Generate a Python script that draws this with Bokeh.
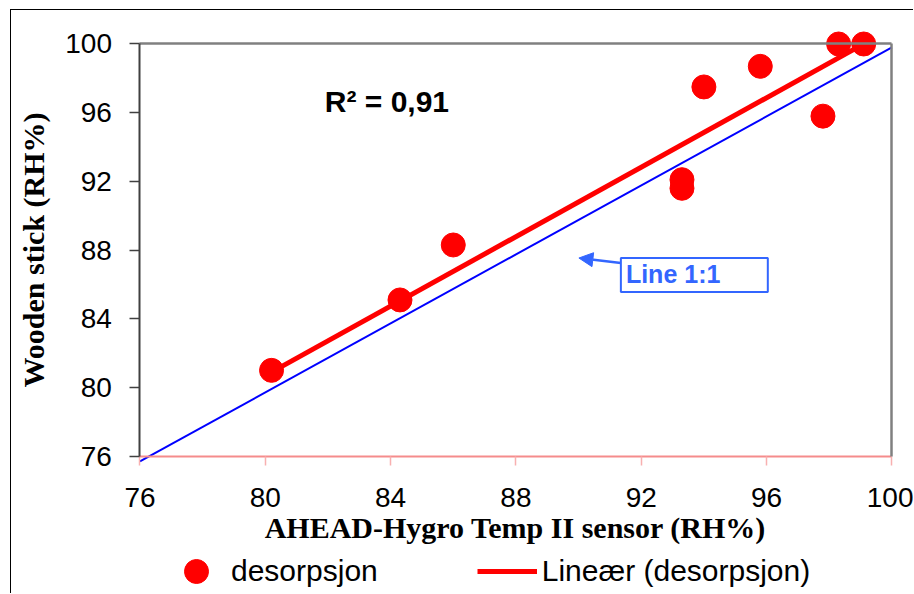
from bokeh.plotting import figure
from bokeh.models import (Range1d, LinearAxis, FixedTicker, Label, BoxAnnotation,
                          Arrow, NormalHead, Legend, LegendItem)
from bokeh.embed import file_html
from bokeh.resources import INLINE

# ---- data ----
sensor_rh = [80.2, 84.3, 86.0, 93.3, 93.3, 94.0, 95.8, 97.8, 98.3, 99.1]
stick_rh = [81.0, 85.1, 88.3, 92.1, 91.6, 97.5, 98.7, 95.8, 100.0, 100.0]
trend_x = [80.2, 98.8]
trend_y = [80.9, 99.7]
one_to_one_x = [76, 100]
one_to_one_y = [75.7, 99.8]
tick_values = [76, 80, 84, 88, 92, 96, 100]
r2_text = "R² = 0,91"
line_label_text = "Line 1:1"
series_label = "desorpsjon"
trend_label = "Lineær (desorpsjon)"
x_title = "AHEAD-Hygro Temp II sensor (RH%)"
y_title = "Wooden stick (RH%)"

AXIS_MIN, AXIS_MAX = 76, 100

# annotation placement (data units)
R2_POS = (81.9, 96.65)
BOX_L, BOX_R, BOX_T, BOX_B = 91.35, 96.04, 87.54, 85.56
LINE_LABEL_POS = (91.51, 86.6)
ARROW_TAIL = (91.35, 87.25)
ARROW_TIP = (90.01, 87.54)

BLUE_ANN = "#3366FF"
GRAY = "#808080"

# the frame covers the whole chart area; axes are pinned at 76 / 100
p = figure(frame_width=902, frame_height=583,
           x_range=Range1d(71.9, 100.69), y_range=Range1d(68.01, 101.95),
           output_backend="svg", toolbar_location=None,
           min_border_left=0, min_border_right=0,
           min_border_top=0, min_border_bottom=0)
p.styles = {"margin-left": "10px", "margin-top": "9px",
            "border-left": "1.5px solid black", "border-top": "1.5px solid black"}
p.grid.visible = False
p.outline_line_color = None
p.background_fill_color = "white"
p.border_fill_color = "white"

# axes
for ax in (p.xaxis[0], p.yaxis[0]):
    ax.ticker = FixedTicker(ticks=tick_values)
    ax.bounds = (AXIS_MIN, AXIS_MAX)
    ax.fixed_location = AXIS_MIN
    ax.minor_tick_line_color = None
    ax.major_tick_in = 0
    ax.major_label_text_font = "Liberation Sans"
    ax.major_label_text_font_size = "28px"
    ax.major_label_text_color = "black"
    ax.axis_label_text_font = "Liberation Serif"
    ax.axis_label_text_font_style = "bold"
    ax.axis_label_text_color = "black"

yax = p.yaxis[0]
yax.axis_line_color = "#404040"
yax.axis_line_width = 2
yax.major_tick_line_color = "#404040"
yax.major_tick_line_width = 1.5
yax.major_tick_out = 10
yax.major_label_standoff = 18
yax.axis_label = y_title
yax.axis_label_text_font_size = "30px"
yax.axis_label_standoff = 12

xax = p.xaxis[0]
xax.axis_line_color = "#F58C8C"
xax.axis_line_width = 2
xax.major_tick_line_color = "#F8B0B0"
xax.major_tick_line_width = 1.5
xax.major_tick_out = 9
xax.major_label_standoff = 23
xax.axis_label = x_title
xax.axis_label_text_font_size = "30px"
xax.axis_label_standoff = 0

# gray top and right border of the plot area
right_ax = LinearAxis(ticker=FixedTicker(ticks=[]), bounds=(AXIS_MIN, AXIS_MAX),
                      fixed_location=AXIS_MAX,
                      axis_line_color=GRAY, axis_line_width=2.5,
                      major_tick_line_color=None, minor_tick_line_color=None)
p.add_layout(right_ax, "right")
top_ax = LinearAxis(ticker=FixedTicker(ticks=[]), bounds=(AXIS_MIN, AXIS_MAX),
                    fixed_location=AXIS_MAX,
                    axis_line_color=GRAY, axis_line_width=2.5,
                    major_tick_line_color=None, minor_tick_line_color=None)
p.add_layout(top_ax, "above")

# glyphs
p.line(one_to_one_x, one_to_one_y, line_color="#0000FF", line_width=2)
trend = p.line(trend_x, trend_y, line_color="#FF0000", line_width=5)
dots = p.scatter(sensor_rh, stick_rh, size=24, fill_color="#FF0000", line_color="#FF0000")

# annotations
p.add_layout(Label(x=R2_POS[0], y=R2_POS[1], text=r2_text, text_font="Liberation Sans",
                   text_font_style="bold", text_font_size="30px", text_color="black",
                   text_baseline="alphabetic"))
p.add_layout(BoxAnnotation(left=BOX_L, right=BOX_R, top=BOX_T, bottom=BOX_B,
                           fill_color="white", fill_alpha=1.0,
                           line_color=BLUE_ANN, line_alpha=1.0, line_width=2))
p.add_layout(Label(x=LINE_LABEL_POS[0], y=LINE_LABEL_POS[1], text=line_label_text,
                   text_font="Liberation Sans", text_font_style="bold",
                   text_font_size="25px", text_color=BLUE_ANN, text_baseline="alphabetic"))
p.add_layout(Arrow(x_start=ARROW_TAIL[0], y_start=ARROW_TAIL[1],
                   x_end=ARROW_TIP[0], y_end=ARROW_TIP[1],
                   line_color=BLUE_ANN, line_width=2.5,
                   end=NormalHead(size=14, fill_color=BLUE_ANN, line_color=BLUE_ANN)))

legend = Legend(items=[LegendItem(label=series_label, renderers=[dots]),
                       LegendItem(label=trend_label, renderers=[trend])],
                orientation="horizontal", location=(155, -8),
                glyph_width=60, glyph_height=60, label_standoff=5, spacing=99,
                padding=0, margin=0, border_line_color=None,
                background_fill_alpha=0,
                label_text_font="Liberation Sans", label_text_font_size="30px",
                label_text_color="black")
p.add_layout(legend)

open("out.html", "w").write(file_html(p, INLINE))
